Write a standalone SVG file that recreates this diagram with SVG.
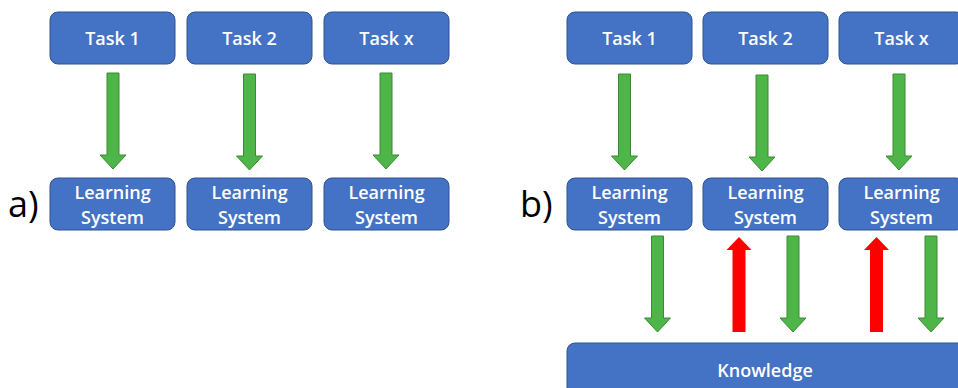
<svg xmlns="http://www.w3.org/2000/svg" xmlns:xlink="http://www.w3.org/1999/xlink" width="958" height="388" viewBox="0 0 958 388">
<style>
.box{fill:#4472C4;stroke:#2F528F;stroke-width:1}
.lbl{font-family:"Open Sans","Liberation Sans",sans-serif;font-size:18px;font-weight:600;fill:#fff;text-anchor:middle}
.side{font-family:"Open Sans","Liberation Sans",sans-serif;font-size:36px;fill:#000}
.g{fill:#4EB648;stroke:#3B8A31;stroke-width:1}
.r{fill:#FF0000}
</style>
<defs>
<path id="down" d="M-6,0 H6 V82 H13 L0,96 L-13,82 H-6 Z"/>
<path id="up" d="M0,0 L12.5,13 H6.5 V95 H-6.5 V13 H-12.5 Z"/>
</defs>
<rect width="958" height="388" fill="#fff"/>
<text class="side" x="8" y="217">a)</text>
<text class="side" x="520" y="217">b)</text>
<g id="a-task1"><rect class="box" x="50" y="12" width="125" height="52" rx="8"/><text class="lbl" x="112.5" y="45">Task 1</text></g>
<g id="a-task2"><rect class="box" x="187" y="12" width="125" height="52" rx="8"/><text class="lbl" x="249.5" y="45">Task 2</text></g>
<g id="a-taskx"><rect class="box" x="324" y="12" width="125" height="52" rx="8"/><text class="lbl" x="386.5" y="45">Task x</text></g>
<g id="a-ls1"><rect class="box" x="50" y="178" width="125" height="52" rx="8"/><text class="lbl" x="112.5" y="199">Learning</text><text class="lbl" x="112.5" y="224">System</text></g>
<g id="a-ls2"><rect class="box" x="187" y="178" width="125" height="52" rx="8"/><text class="lbl" x="249.5" y="199">Learning</text><text class="lbl" x="249.5" y="224">System</text></g>
<g id="a-lsx"><rect class="box" x="324" y="178" width="125" height="52" rx="8"/><text class="lbl" x="386.5" y="199">Learning</text><text class="lbl" x="386.5" y="224">System</text></g>
<g id="b-task1"><rect class="box" x="567" y="12" width="125" height="52" rx="8"/><text class="lbl" x="629.5" y="45">Task 1</text></g>
<g id="b-task2"><rect class="box" x="703" y="12" width="125" height="52" rx="8"/><text class="lbl" x="765.5" y="45">Task 2</text></g>
<g id="b-taskx"><rect class="box" x="839" y="12" width="125" height="52" rx="8"/><text class="lbl" x="901.5" y="45">Task x</text></g>
<g id="b-ls1"><rect class="box" x="567" y="178" width="125" height="52" rx="8"/><text class="lbl" x="629.5" y="199">Learning</text><text class="lbl" x="629.5" y="224">System</text></g>
<g id="b-ls2"><rect class="box" x="703" y="178" width="125" height="52" rx="8"/><text class="lbl" x="765.5" y="199">Learning</text><text class="lbl" x="765.5" y="224">System</text></g>
<g id="b-lsx"><rect class="box" x="839" y="178" width="125" height="52" rx="8"/><text class="lbl" x="901.5" y="199">Learning</text><text class="lbl" x="901.5" y="224">System</text></g>
<g id="knowledge"><rect class="box" x="567" y="343" width="400" height="60" rx="8"/><text class="lbl" x="765" y="377">Knowledge</text></g>
<g id="connectors">
<use xlink:href="#down" class="g" transform="translate(113,73)"/>
<use xlink:href="#down" class="g" transform="translate(249.5,74)"/>
<use xlink:href="#down" class="g" transform="translate(386,73)"/>
<use xlink:href="#down" class="g" transform="translate(624.5,74)"/>
<use xlink:href="#down" class="g" transform="translate(762,75)"/>
<use xlink:href="#down" class="g" transform="translate(899,74)"/>
<use xlink:href="#down" class="g" transform="translate(657.5,236)"/>
<use xlink:href="#down" class="g" transform="translate(793,236)"/>
<use xlink:href="#down" class="g" transform="translate(931,236)"/>
<use xlink:href="#up" class="r" transform="translate(739,237)"/>
<use xlink:href="#up" class="r" transform="translate(876.5,237)"/>
</g>
</svg>
